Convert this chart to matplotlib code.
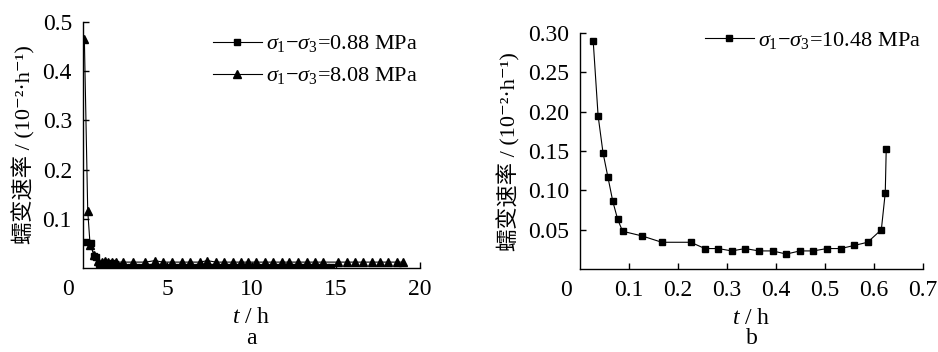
import numpy as np
import matplotlib
matplotlib.use('Agg')
from matplotlib import pyplot as plt

plt.rcParams['font.family'] = ['Liberation Serif', 'Noto Sans CJK SC', 'DejaVu Serif']
plt.rcParams['mathtext.fontset'] = 'custom'
plt.rcParams['mathtext.rm'] = 'Liberation Serif'
plt.rcParams['mathtext.it'] = 'Liberation Serif:italic'

# panel a, 0.88 MPa (squares)
t_a1 = [0.2, 0.45, 0.65, 0.8, 0.95, 1.1, 1.3, 1.5, 1.7, 1.9, 2.1,
        2.4, 2.8, 3.2, 3.6, 4.0, 4.4, 4.8, 5.2, 5.6, 6.0, 6.4, 6.8, 7.2,
        7.6, 8.0, 8.4, 8.8, 9.2, 9.6, 10.0, 10.4, 10.8, 11.2, 11.6, 12.0,
        12.4, 12.8, 13.2, 13.6, 14.0, 14.4, 14.7]
r_a1 = [0.053, 0.050, 0.025, 0.022, 0.008, 0.006, 0.010, 0.008, 0.010, 0.008, 0.005,
        0.002, 0.002, 0.002, 0.002, 0.002, 0.002, 0.002, 0.002, 0.002, 0.002, 0.002,
        0.002, 0.002, 0.002, 0.002, 0.002, 0.002, 0.002, 0.002, 0.002, 0.002, 0.002,
        0.002, 0.002, 0.002, 0.002, 0.002, 0.002, 0.002, 0.002, 0.002, 0.002]

# panel a, 8.08 MPa (triangles)
t_a2 = [0.08, 0.28, 0.42, 0.67, 0.9, 1.1, 1.3, 1.5, 1.7, 1.95, 2.39, 2.95,
        3.70, 4.27, 4.73, 5.26, 5.86, 6.35, 6.94, 7.38, 7.89, 8.37, 8.88,
        9.36, 9.81, 10.27, 10.80, 11.30, 11.79, 12.25, 12.78, 13.27, 13.77,
        14.22, 15.15, 15.65, 16.14, 16.64, 17.13, 17.63, 18.12, 18.62, 19.0]
r_a2 = [0.465, 0.116, 0.047, 0.026, 0.015, 0.013, 0.014, 0.012, 0.013, 0.012, 0.012, 0.012,
        0.012, 0.015, 0.012, 0.012, 0.012, 0.012, 0.012, 0.015, 0.012, 0.012, 0.012,
        0.012, 0.012, 0.012, 0.012, 0.012, 0.012, 0.012, 0.012, 0.012, 0.012,
        0.012, 0.012, 0.012, 0.012, 0.012, 0.012, 0.012, 0.012, 0.012, 0.012]

# panel b, 10.48 MPa
t_b = [0.027, 0.037, 0.047, 0.057, 0.067, 0.077, 0.087, 0.127, 0.167, 0.226,
       0.255, 0.282, 0.310, 0.337, 0.365, 0.393, 0.421, 0.449, 0.476, 0.504,
       0.532, 0.560, 0.587, 0.615, 0.623, 0.625]
r_b = [0.290, 0.195, 0.148, 0.117, 0.086, 0.063, 0.048, 0.042, 0.034, 0.034,
       0.026, 0.026, 0.023, 0.026, 0.023, 0.023, 0.019, 0.023, 0.023, 0.026,
       0.026, 0.030, 0.034, 0.050, 0.097, 0.153]

ylab = '蠕变速率 / (10⁻²·h⁻¹)'
fs = 17
lfs = 16

fig = plt.figure(figsize=(9.38, 3.52), dpi=100)
ax1 = fig.add_axes([0.0885, 0.2386, 0.3593, 0.699])
ax2 = fig.add_axes([0.6183, 0.2358, 0.3657, 0.670])

ax1.plot(t_a1, r_a1, 'k-', marker='s', ms=5, lw=0.8,
         label=r'$\sigma_1$$-$$\sigma_3$=0.88 MPa')
ax1.plot(t_a2, r_a2, 'k-', marker='^', ms=5.5, lw=0.8,
         label=r'$\sigma_1$$-$$\sigma_3$=8.08 MPa')
ax1.set_xlim(0, 20)
ax1.set_ylim(0, 0.5)
ax1.set_xticks([5, 10, 15, 20])
ax1.set_yticks([0.1, 0.2, 0.3, 0.4, 0.5])
ax1.set_yticklabels(['0.1', '0.2', '0.3', '0.4', '0.5'])
ax1.text(-0.045, -0.045, '0', transform=ax1.transAxes, ha='center', va='top', fontsize=fs)
ax1.legend(loc='upper right', bbox_to_anchor=(1.02, 0.99), frameon=False, fontsize=lfs,
           handlelength=2.2, handletextpad=0.2, labelspacing=0.5, borderaxespad=0.0)

ax2.plot(t_b, r_b, 'k-', marker='s', ms=5, lw=0.8,
         label=r'$\sigma_1$$-$$\sigma_3$=10.48 MPa')
ax2.set_xlim(0, 0.7)
ax2.set_ylim(0, 0.30)
ax2.set_xticks([0.1, 0.2, 0.3, 0.4, 0.5, 0.6, 0.7])
ax2.set_xticklabels(['0.1', '0.2', '0.3', '0.4', '0.5', '0.6', '0.7'])
ax2.set_yticks([0.05, 0.10, 0.15, 0.20, 0.25, 0.30])
ax2.set_yticklabels(['0.05', '0.10', '0.15', '0.20', '0.25', '0.30'])
ax2.text(-0.04, -0.045, '0', transform=ax2.transAxes, ha='center', va='top', fontsize=fs)
ax2.legend(loc='upper right', bbox_to_anchor=(1.02, 1.05), frameon=False, fontsize=lfs,
           handlelength=2.2, handletextpad=0.2, borderaxespad=0.0)

for ax, tag in [(ax1, 'a'), (ax2, 'b')]:
    for s in ['top', 'right']:
        ax.spines[s].set_visible(False)
    ax.spines['left'].set_linewidth(1.0)
    ax.spines['bottom'].set_linewidth(1.0)
    ax.tick_params(direction='in', length=4, width=1.0, labelsize=fs, pad=8)
    ax.set_xlabel('$t$ / h', fontsize=fs, labelpad=5)
    ax.set_ylabel(ylab, fontsize=lfs, labelpad=5)
    bb = ax.get_position()
    fig.text((bb.x0 + bb.x1) / 2, 1 - 339 / 352, tag, ha='center', va='center', fontsize=fs)

fig.savefig('out.png', dpi=100)
